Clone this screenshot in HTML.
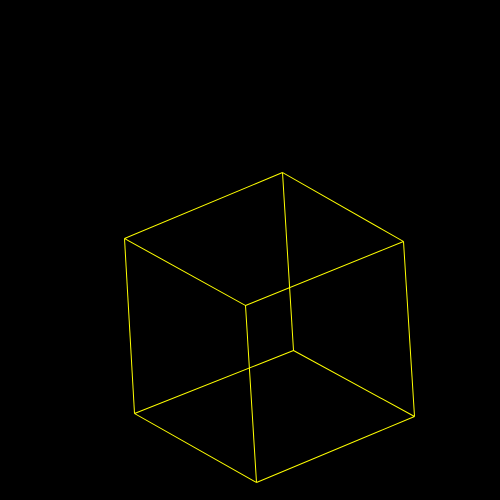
<!DOCTYPE html>
<html>
<head>
<meta charset="utf-8">
<style>
  html, body { margin: 0; padding: 0; background: #000; }
  svg { display: block; }
</style>
</head>
<body>
<svg id="chart" width="500" height="500" viewBox="0 0 500 500" xmlns="http://www.w3.org/2000/svg">
  <rect x="0" y="0" width="500" height="500" fill="#000"/>
  <g id="edges"></g>
</svg>
<script>
// Projected vertex coordinates
const vertexX = [282, 403, 245, 124, 293, 414, 256, 134];
const vertexY = [172, 241, 305, 238, 350, 416, 482, 413];
const edgeFrom = [0, 1, 2, 3, 0, 1, 2, 3, 4, 5, 6, 7];
const edgeTo   = [1, 2, 3, 0, 4, 5, 6, 7, 5, 6, 7, 4];

const g = document.getElementById('edges');
for (let i = 0; i < edgeFrom.length; i++) {
  const a = edgeFrom[i], b = edgeTo[i];
  const ln = document.createElementNS('http://www.w3.org/2000/svg', 'line');
  ln.setAttribute('x1', vertexX[a] + 0.5);
  ln.setAttribute('y1', vertexY[a] + 0.5);
  ln.setAttribute('x2', vertexX[b] + 0.5);
  ln.setAttribute('y2', vertexY[b] + 0.5);
  ln.setAttribute('stroke', '#ffff00');
  ln.setAttribute('stroke-width', '1');
  
  
  g.appendChild(ln);
}
</script>
</body>
</html>
